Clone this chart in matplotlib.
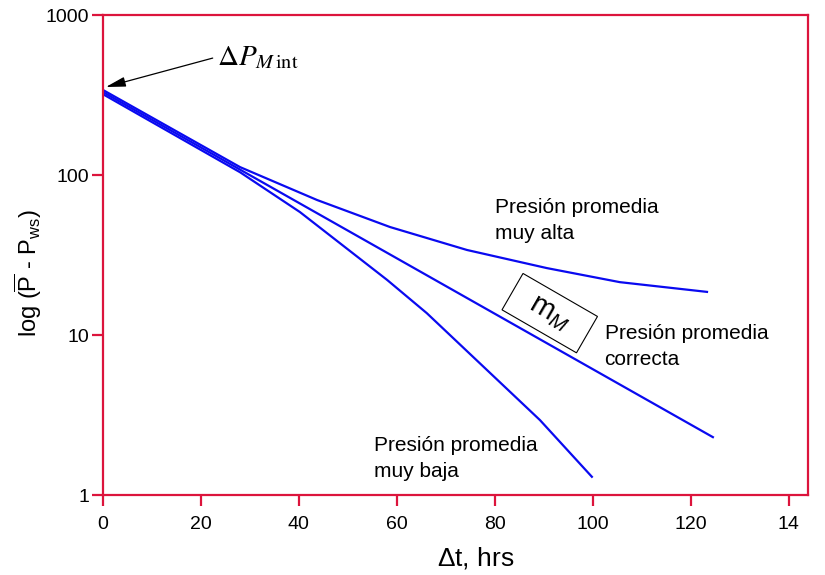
import matplotlib
matplotlib.use("Agg")
import matplotlib.pyplot as plt
import matplotlib.transforms as mtransforms
from matplotlib.patches import Rectangle

plt.rcParams['font.family'] = ['Liberation Sans', 'DejaVu Sans']
plt.rcParams['mathtext.fontset'] = 'custom'
plt.rcParams['mathtext.rm'] = 'Liberation Sans'
plt.rcParams['mathtext.it'] = 'Liberation Sans:italic'

# curves: delta t (hrs) vs (Pbar - Pws)
t_alta = [0, 28.0, 43.7, 58.6, 74.3, 90.6, 105.5, 123.3]
dp_alta = [340, 112, 69.8, 47.3, 34.0, 26.2, 21.4, 18.6]

t_correcta = [0, 124.5]
dp_correcta = [330, 2.30]

t_baja = [0, 28.0, 40.2, 58.0, 66.1, 89.2, 99.8]
dp_baja = [320, 104, 58.7, 22.1, 13.7, 2.94, 1.30]

x_ticks = [0, 20, 40, 60, 80, 100, 120, 140]
x_ticklabels = ['0', '20', '40', '60', '80', '100', '120', '14']
y_ticks = [1, 10, 100, 1000]
y_ticklabels = ['1', '10', '100', '1000']

red = '#dc143c'
blue = '#0a0af0'

fig = plt.figure(figsize=(8.25, 5.75), dpi=100)
ax = fig.add_axes([0.1248, 0.1391, 0.8545, 0.8348])

ax.plot(t_alta, dp_alta, color=blue, lw=1.6)
ax.plot(t_correcta, dp_correcta, color=blue, lw=1.6)
ax.plot(t_baja, dp_baja, color=blue, lw=1.6)

ax.set_yscale('log')
ax.set_xlim(0, 143.9)
ax.set_ylim(1, 1000)
ax.set_xticks(x_ticks)
ax.set_xticklabels(x_ticklabels)
ax.set_yticks(y_ticks)
ax.set_yticklabels(y_ticklabels)
ax.yaxis.set_minor_locator(matplotlib.ticker.NullLocator())

for s in ax.spines.values():
    s.set_color(red)
    s.set_linewidth(1.6)
ax.tick_params(axis='both', colors=red, width=1.6, length=8, labelsize=14,
               labelcolor='black')
ax.tick_params(axis='x', pad=7)
ax.tick_params(axis='y', pad=2)

ax.set_xlabel(r'$\Delta$t, hrs', fontsize=19)
ax.xaxis.set_label_coords(0.528, -0.104)
ax.set_ylabel(r'log ($\overline{\mathrm{P}}$ - P$_{\mathrm{ws}}$)', fontsize=17)
ax.yaxis.set_label_coords(-0.084, 0.4625)

# intercept label with arrow to the y axis
ax.annotate('', xy=(0.6, 355), xytext=(22.4, 538),
            arrowprops=dict(arrowstyle='-|>,head_length=1.0,head_width=0.25',
                            color='black', lw=0.9, mutation_scale=12,
                            shrinkA=0, shrinkB=0))
ax.text(23.3, 487, r'$\Delta P_{M\,\mathrm{int}}$', fontsize=21,
        math_fontfamily='stix', ha='left', va='baseline')

# curve labels, placed by the baseline of their second line
ax.text(80.0, 39.8, 'Presión promedia\nmuy alta', fontsize=15,
        va='baseline', linespacing=1.5)
ax.text(102.4, 6.49, 'Presión promedia\ncorrecta', fontsize=15,
        va='baseline', linespacing=1.5)
ax.text(55.3, 1.296, 'Presión promedia\nmuy baja', fontsize=15,
        va='baseline', linespacing=1.5)

# slope box, rotated along the straight line
cx, cy = 91.2, 13.7
box_tr = (mtransforms.Affine2D().rotate_deg(-30)
          + mtransforms.ScaledTranslation(cx, cy, ax.transData))
ax.add_patch(Rectangle((-43, -21), 86, 42, fill=False, ec='black', lw=0.8,
                       transform=box_tr, clip_on=False))
ax.text(cx, cy, r'm$_{\mathit{M}}$', fontsize=21, rotation=-30,
        rotation_mode='anchor', ha='center', va='center')

fig.savefig('out.png', dpi=100)
